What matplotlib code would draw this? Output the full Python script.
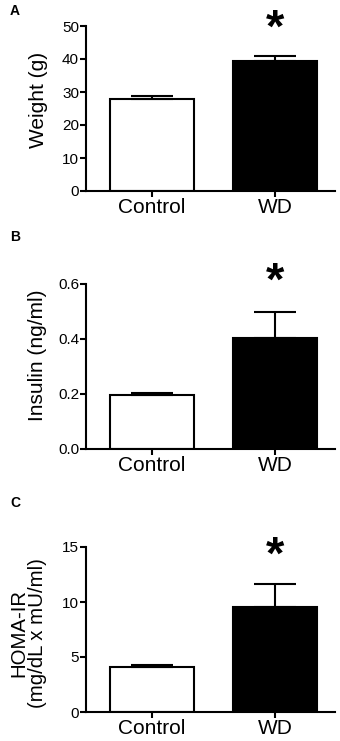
import matplotlib
import matplotlib.pyplot as plt

matplotlib.use('Agg')

plt.rcParams['font.family'] = ['Liberation Sans', 'DejaVu Sans']

groups = ['Control', 'WD']
bar_colors = ['white', 'black']

weight_mean = [28.0, 39.5]
weight_sem = [0.7, 1.3]
insulin_mean = [0.198, 0.402]
insulin_sem = [0.007, 0.096]
homa_mean = [4.05, 9.55]
homa_sem = [0.2, 2.1]

weight_ticks = [0, 10, 20, 30, 40, 50]
insulin_ticks = [0.0, 0.2, 0.4, 0.6]
homa_ticks = [0, 5, 10, 15]

star_y = [48.8, 0.603, 14.1]

panels = [
    ('A', weight_mean, weight_sem, weight_ticks, 'Weight (g)', '{:.0f}'),
    ('B', insulin_mean, insulin_sem, insulin_ticks, 'Insulin (ng/ml)', '{:.1f}'),
    ('C', homa_mean, homa_sem, homa_ticks, 'HOMA-IR\n(mg/dL x mU/ml)', '{:.0f}'),
]

fig = plt.figure(figsize=(3.4, 7.41), dpi=100)

W, H = 340.0, 741.0
# (top, bottom) of each plot area, pixels from top
boxes = [(26, 191), (284, 449), (547, 712)]
label_y = [11, 237, 503]
# y-label anchor (axes coords) and size per panel
ylabel_pos = [(-0.153, 0.55), (-0.157, 0.567), (-0.157, 0.48)]
ylabel_size = [15, 15, 14.7]

lw = 1.5
for (letter, mean, sem, ticks, ylabel, fmt), (top, bot), ly, sy, lpos, lsize in zip(
        panels, boxes, label_y, star_y, ylabel_pos, ylabel_size):
    ax = fig.add_axes([86 / W, 1 - bot / H, 249 / W, (bot - top) / H])
    x = range(len(groups))
    ax.bar(x, mean, width=0.68, color=bar_colors, edgecolor='black',
           linewidth=lw, zorder=2)
    ax.errorbar(x, mean, yerr=[[0, 0], sem], fmt='none', ecolor='black',
                elinewidth=lw, capsize=15, capthick=lw, zorder=3)
    ax.text(1, sy, '*', ha='center', va='center', fontsize=34,
            fontweight='bold', clip_on=False)

    ax.set_xlim(-0.537, 1.488)
    ax.set_ylim(ticks[0], ticks[-1])
    ax.set_yticks(ticks)
    ax.set_yticklabels([fmt.format(t) for t in ticks])
    ax.set_xticks(list(x))
    ax.set_xticklabels(groups, fontsize=15)
    ax.tick_params(axis='y', labelsize=11, width=lw, length=4, pad=1)
    ax.tick_params(axis='x', width=lw, length=4.3, pad=0.5)

    ax.spines['right'].set_visible(False)
    ax.spines['top'].set_visible(False)
    ax.spines['left'].set_linewidth(lw)
    ax.spines['bottom'].set_linewidth(lw)

    ax.set_ylabel(ylabel, fontsize=lsize, linespacing=0.95)
    ax.yaxis.set_label_coords(*lpos)

    fig.text(10 / W, 1 - ly / H, letter, fontsize=10, fontweight='bold',
             ha='left', va='center')

fig.savefig('out.png', dpi=100)
